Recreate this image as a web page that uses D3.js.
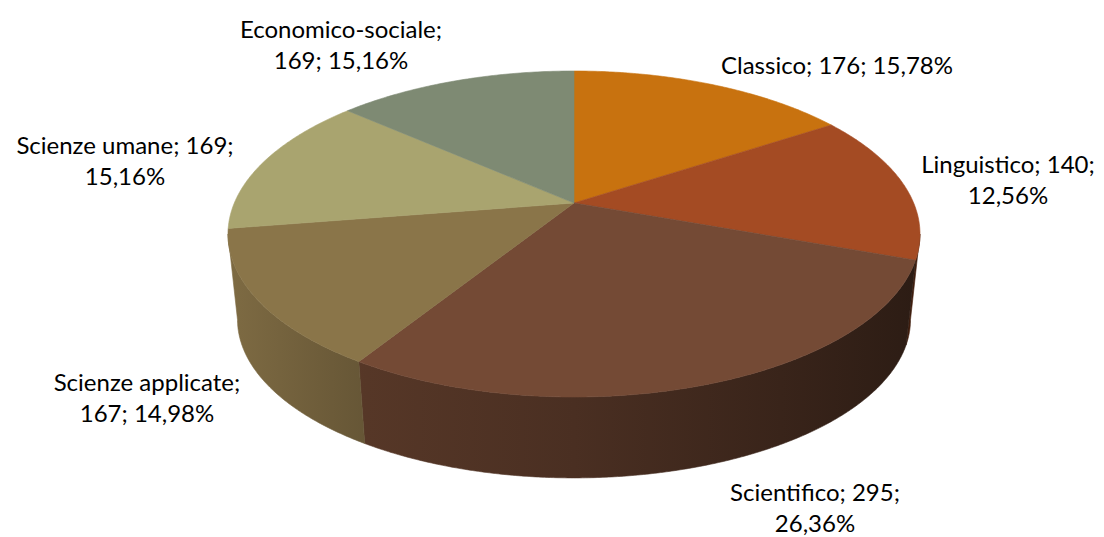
<!DOCTYPE html>
<html><head><meta charset="utf-8">
<script src="https://cdn.jsdelivr.net/npm/d3@7"></script>
<style>html,body{margin:0;padding:0;background:#fff;}svg{display:block}</style>
</head><body>
<svg id="chart" width="1104" height="537"></svg>
<script>
// ---- data ----
const categories = ["Classico","Linguistico","Scientifico","Scienze applicate","Scienze umane","Economico-sociale"];
const values = [176,140,295,167,169,169];
const percentLabels = ["15,78%","12,56%","26,36%","14,98%","15,16%","15,16%"];
const colors = ["#C8720F","#A44B23","#744A35","#8A7549","#A9A46F","#7E8A73"];

// ---- layout ----
const W = 1104, H = 537;
const cx = 574, cy = 234, rx = 346, ry = 163;   // top face ellipse
const apex = [574, 203];                          // projected centre
const vanish = [574, 3350], depthScale = 0.9726;  // bottom face = scaled toward vanishing point
const persK = 0.32, persFar = -30 * Math.PI / 180, skew = 8 * Math.PI / 180;
const labelFirstLineParts = [3, 2, 2, 1, 2, 1];
const labelCenters = [[837,64],[1008,178],[815,506],[147,396],[125,159],[341,43]];
const lineH = 31;
const fontSize = 24;

const svg = d3.select("#chart");
svg.append("rect").attr("width", W).attr("height", H).attr("fill", "#fff");

const TAU = Math.PI * 2;
function S(a){ return Math.atan2(Math.sin(a)*Math.sqrt(1-persK*persK), Math.cos(a)+persK); }
function warp(phi){
  if (phi >= TAU - 1e-9) return TAU;
  if (phi <= 1e-9) return 0;
  let t = S(phi - persFar) - S(-persFar);
  t = ((t % TAU) + TAU) % TAU;
  t += skew * Math.sin(phi) * (1 - Math.cos(phi)) / 2;
  return t;
}
const rimTop = t => [cx + rx*Math.sin(t), cy - ry*Math.cos(t)];
const toBottom = p => [vanish[0] + depthScale*(p[0]-vanish[0]), vanish[1] + depthScale*(p[1]-vanish[1])];
function rimPts(t0, t1, fn){
  const n = Math.max(2, Math.ceil(Math.abs(t1-t0) / (0.5*Math.PI/180)));
  return d3.range(n+1).map(i => fn(t0 + (t1-t0)*i/n));
}

const pie = d3.pie().sort(null).value(d => d).startAngle(0).endAngle(TAU);
const arcs = pie(values).map((a, i) => ({...a, i, t0: warp(a.startAngle), t1: warp(a.endAngle)}));

const line = d3.line();
const defs = svg.append("defs");

// side gradients
const shade = [[0,0.25],[0.15,0.7],[0.2,0.85],[0.5,1.25],[0.8,2.0],[1,2.7]];
arcs.forEach(a => {
  const g = defs.append("linearGradient").attr("id", "side"+a.i)
    .attr("gradientUnits","userSpaceOnUse").attr("x1", cx-rx).attr("x2", cx+rx).attr("y1",0).attr("y2",0);
  shade.forEach(([o,k]) => g.append("stop").attr("offset", o).attr("stop-color", d3.color(colors[a.i]).darker(k).formatHex()));
});

// sides (visible front half)
const vis0 = Math.PI/2, vis1 = 3*Math.PI/2;
const gSide = svg.append("g");
arcs.forEach(a => {
  const ta = Math.max(a.t0, vis0), tb = Math.min(a.t1, vis1);
  if (tb <= ta) return;
  const top = rimPts(ta, tb, rimTop);
  const bot = rimPts(tb, ta, t => toBottom(rimTop(t)));
  gSide.append("path").attr("d", line(top.concat(bot)) + "Z")
    .attr("fill", `url(#side${a.i})`).attr("stroke", `url(#side${a.i})`).attr("stroke-width", 0.6);
});

// top faces
const gTop = svg.append("g");
arcs.forEach(a => {
  const pts = [apex].concat(rimPts(a.t0, a.t1, rimTop));
  gTop.append("path").attr("d", line(pts) + "Z")
    .attr("fill", colors[a.i]).attr("stroke", colors[a.i]).attr("stroke-width", 0.6).attr("stroke-linejoin","round");
});

// labels
const gLab = svg.append("g").attr("font-family", "Lato, 'Open Sans', sans-serif").attr("font-size", fontSize).attr("fill", "#000");
arcs.forEach(a => {
  const parts = [categories[a.i], String(values[a.i]), percentLabels[a.i]];
  const k = labelFirstLineParts[a.i];
  const lines = [];
  lines.push(parts.slice(0,k).join("; ") + (k < 3 ? ";" : ""));
  if (k < 3) lines.push(parts.slice(k).join("; "));
  const [lx, ly] = labelCenters[a.i];
  const y0 = ly - (lines.length-1)*lineH/2;
  const txt = gLab.append("text").attr("text-anchor","middle").attr("dominant-baseline","central");
  lines.forEach((s, j) => txt.append("tspan").attr("x", lx).attr("y", y0 + j*lineH).text(s));
});
</script>
</body></html>
